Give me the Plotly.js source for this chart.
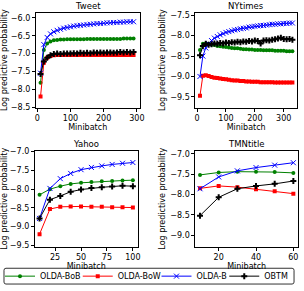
<!DOCTYPE html>
<html><head><meta charset="utf-8">
<script src="https://cdn.plot.ly/plotly-3.0.1.min.js"></script>
<style>html,body{margin:0;padding:0;background:#fff}#chart{width:304px;height:291px}</style>
</head><body><div id="chart"></div>
<script>
// ---- data ----
const seriesNames = ["OLDA-BoB", "OLDA-BoW", "OLDA-B", "OBTM"];
const panelTitles = ["Tweet", "NYtimes", "Yahoo", "TMNtitle"];

const tweetX = [10,20,30,40,50,60,70,80,90,100,110,120,130,140,150,160,170,180,190,200,210,220,230,240,250,260,270,280,290];
const tweetBoB = [-7.82,-6.90,-6.72,-6.66,-6.63,-6.62,-6.61,-6.61,-6.60,-6.60,-6.60,-6.60,-6.60,-6.60,-6.59,-6.59,-6.59,-6.59,-6.59,-6.59,-6.59,-6.59,-6.59,-6.59,-6.59,-6.58,-6.58,-6.58,-6.58];
const tweetBoW = [-8.20,-7.26,-7.12,-7.07,-7.05,-7.04,-7.04,-7.04,-7.04,-7.04,-7.04,-7.04,-7.04,-7.04,-7.04,-7.04,-7.04,-7.04,-7.04,-7.04,-7.04,-7.04,-7.04,-7.04,-7.04,-7.04,-7.04,-7.04,-7.04];
const tweetB   = [-7.55,-6.75,-6.55,-6.45,-6.39,-6.35,-6.32,-6.29,-6.27,-6.25,-6.23,-6.22,-6.21,-6.20,-6.19,-6.18,-6.17,-6.16,-6.16,-6.15,-6.14,-6.14,-6.13,-6.13,-6.12,-6.12,-6.11,-6.11,-6.11];
const tweetOBTM= [-7.57,-7.22,-7.12,-7.05,-7.01,-7.00,-7.01,-7.00,-7.00,-7.00,-6.99,-7.00,-6.98,-6.99,-6.98,-6.99,-6.97,-6.98,-6.97,-6.98,-6.97,-6.97,-6.98,-6.97,-6.96,-6.97,-6.96,-6.97,-6.96];

const nytX = [10,20,30,40,50,60,70,80,90,100,110,120,130,140,150,160,170,180,190,200,210,220,230,240,250,260,270,280,290,300,310,320,330];
const nytBoB = [-8.35,-8.20,-8.19,-8.20,-8.22,-8.23,-8.25,-8.26,-8.27,-8.28,-8.29,-8.30,-8.31,-8.31,-8.32,-8.33,-8.33,-8.34,-8.34,-8.35,-8.35,-8.35,-8.36,-8.36,-8.36,-8.36,-8.37,-8.37,-8.37,-8.37,-8.38,-8.38,-8.38];
const nytBoW = [-9.47,-8.98,-8.97,-8.99,-9.01,-9.03,-9.04,-9.05,-9.06,-9.07,-9.08,-9.09,-9.10,-9.10,-9.11,-9.11,-9.12,-9.12,-9.13,-9.13,-9.13,-9.14,-9.14,-9.14,-9.14,-9.14,-9.15,-9.15,-9.15,-9.15,-9.15,-9.15,-9.15];
const nytB   = [-9.00,-8.50,-8.30,-8.20,-8.12,-8.06,-8.02,-7.98,-7.95,-7.92,-7.90,-7.88,-7.86,-7.85,-7.83,-7.82,-7.81,-7.79,-7.78,-7.77,-7.76,-7.75,-7.75,-7.74,-7.73,-7.72,-7.72,-7.71,-7.71,-7.70,-7.70,-7.69,-7.69];
const nytOBTM= [-8.48,-8.25,-8.20,-8.22,-8.21,-8.19,-8.20,-8.18,-8.19,-8.17,-8.18,-8.16,-8.17,-8.15,-8.16,-8.14,-8.15,-8.13,-8.14,-8.12,-8.13,-8.19,-8.12,-8.11,-8.12,-8.10,-8.09,-8.07,-8.05,-8.08,-8.09,-8.08,-8.10];

const yahooX = [10,20,30,40,50,60,70,80,90,100];
const yahooBoB = [-8.15,-8.00,-7.92,-7.86,-7.83,-7.81,-7.79,-7.78,-7.77,-7.76];
const yahooBoW = [-9.20,-8.53,-8.47,-8.46,-8.46,-8.47,-8.47,-8.48,-8.48,-8.49];
const yahooB   = [-8.78,-7.98,-7.72,-7.58,-7.48,-7.42,-7.38,-7.34,-7.31,-7.29];
const yahooOBTM= [-8.78,-8.28,-8.18,-8.07,-8.01,-7.97,-7.95,-7.93,-7.91,-7.92];

const tmnX = [10,20,30,40,50,60];
const tmnBoB = [-7.52,-7.46,-7.44,-7.44,-7.45,-7.47];
const tmnBoW = [-7.85,-7.79,-7.82,-7.87,-7.92,-7.98];
const tmnB   = [-7.86,-7.57,-7.42,-7.34,-7.28,-7.22];
const tmnOBTM= [-8.52,-8.07,-7.86,-7.79,-7.74,-7.67];

// ---- styles ----
const colors = ["#008000", "#ff0000", "#0000ff", "#000000"];
const symbols = ["circle", "square", "x-thin-open", "cross"];
const sizes = [4, 4, 5, 5];
const legendIds = ["legend", "legend2", "legend3", "legend4"];
const panels = [
  {x: tweetX, ys: [tweetBoB, tweetBoW, tweetB, tweetOBTM]},
  {x: nytX, ys: [nytBoB, nytBoW, nytB, nytOBTM]},
  {x: yahooX, ys: [yahooBoB, yahooBoW, yahooB, yahooOBTM]},
  {x: tmnX, ys: [tmnBoB, tmnBoW, tmnB, tmnOBTM]}
];
const traces = [];
panels.forEach((p, pi) => {
  const ax = pi === 0 ? "" : String(pi + 1);
  p.ys.forEach((y, si) => {
    traces.push({
      x: p.x, y: y, type: "scatter", mode: "lines+markers",
      name: seriesNames[si], legend: legendIds[si], showlegend: pi === 3,
      xaxis: "x" + ax, yaxis: "y" + ax,
      line: {color: colors[si], width: 1},
      marker: {color: colors[si], symbol: symbols[si], size: sizes[si],
               line: {color: colors[si], width: si === 2 ? 1 : 0}}
    });
  });
});

const font = {family: "DejaVu Sans, sans-serif", size: 8, color: "#000"};
function xa(domain, range, dtick, anchor) {
  return {domain: domain, range: range, dtick: dtick, anchor: anchor,
    showgrid: false, zeroline: false, showline: true, mirror: true, linecolor: "#000", linewidth: 1,
    ticks: "outside", ticklen: 3, tickwidth: 1, tickcolor: "#000", tickfont: font,
    title: {text: "Minibatch", font: font, standoff: 2}};
}
function ya(domain, range, anchor) {
  return {domain: domain, range: range, dtick: 0.5, tickformat: ".1f", anchor: anchor,
    showgrid: false, zeroline: false, showline: true, mirror: true, linecolor: "#000", linewidth: 1,
    ticks: "outside", ticklen: 3, tickwidth: 1, tickcolor: "#000", tickfont: font,
    title: {text: "Log predictive probability", font: font, standoff: 3}};
}
const W = 304, H = 291;
const topY = [1 - 109/H, 1 - 13/H], botY = [1 - 250/H, 1 - 153/H];
const legendTextX = [41, 119, 198, 266];

// rounded legend frame in paper coordinates
const fx0 = 3/W, fx1 = 294/W, fy0 = 1 - 288/H, fy1 = 1 - 272/H, rx = 2/W, ry = 2/H;
const framePath = `M${fx0+rx},${fy0} L${fx1-rx},${fy0} Q${fx1},${fy0} ${fx1},${fy0+ry} L${fx1},${fy1-ry} Q${fx1},${fy1} ${fx1-rx},${fy1} ` +
  `L${fx0+rx},${fy1} Q${fx0},${fy1} ${fx0},${fy1-ry} L${fx0},${fy0+ry} Q${fx0},${fy0} ${fx0+rx},${fy0} Z`;

const layout = {
  width: W, height: H, margin: {l: 0, r: 0, t: 0, b: 0},
  paper_bgcolor: "#fff", plot_bgcolor: "#fff", font: font,
  xaxis:  xa([35/W, 139/W], [-4, 308], 100, "y"),
  yaxis:  ya(topY, [-8.51, -5.86], "x"),
  xaxis2: xa([195/W, 297/W], [-6, 346], 100, "y2"),
  yaxis2: ya(topY, [-9.76, -7.44], "x2"),
  xaxis3: xa([34/W, 137/W], [5.5, 104.5], 25, "y3"),
  yaxis3: ya(botY, [-9.53, -6.98], "x3"),
  xaxis4: xa([195/W, 298/W], [7.5, 62.5], 20, "y4"),
  yaxis4: ya(botY, [-9.28, -6.93], "x4"),
  annotations: panelTitles.map((t, i) => ({
    text: t, showarrow: false, xref: "paper", yref: "paper",
    x: [87/W, 246/W, 85.5/W, 246.5/W][i], y: [1 - 6/H, 1 - 6/H, 1 - 146/H, 1 - 146/H][i],
    xanchor: "center", yanchor: "middle", font: {family: font.family, size: 8.5, color: "#000"}
  })),
  shapes: [{type: "path", xref: "paper", yref: "paper", path: framePath,
    line: {color: "#333", width: 1}, fillcolor: "rgba(0,0,0,0)"}],
  showlegend: true
};
legendIds.forEach((id, i) => {
  layout[id] = {orientation: "h", x: (legendTextX[i] - 42)/W, xanchor: "left", y: 1 - 280/H, yanchor: "middle",
    font: font, borderwidth: 0, itemwidth: 30, bgcolor: "rgba(0,0,0,0)"};
});
Plotly.newPlot("chart", traces, layout, {staticPlot: true, displayModeBar: false});
</script></body></html>
